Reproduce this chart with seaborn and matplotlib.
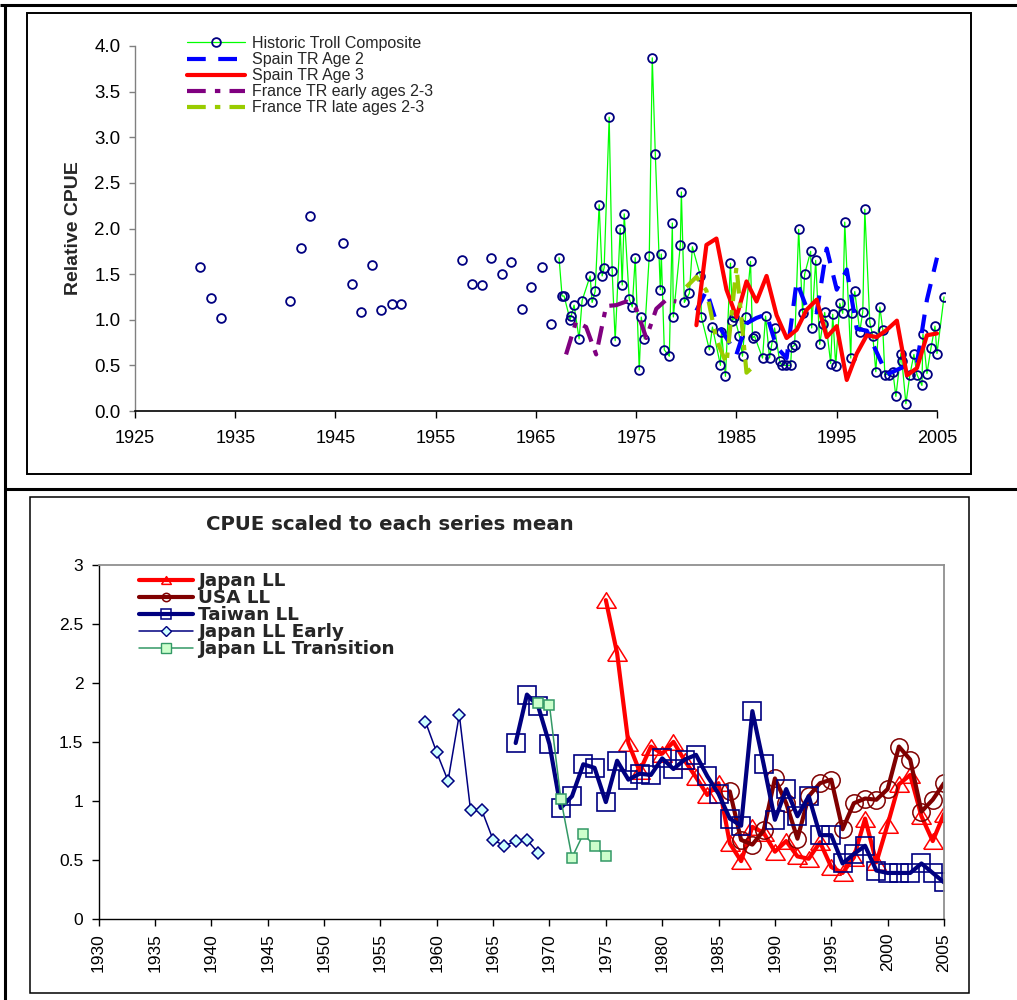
import matplotlib
matplotlib.use("Agg")
import matplotlib.pyplot as plt
from matplotlib.lines import Line2D
from matplotlib.patches import Rectangle
import seaborn as sns

# ---------------- upper panel: troll CPUE indices ----------------
troll_early_year = [1931.5, 1932.6, 1933.6, 1940.5, 1941.6, 1942.5, 1945.7, 1946.6,
                    1947.5, 1948.6, 1949.5, 1950.6, 1951.5, 1957.6, 1958.6, 1959.6,
                    1960.5, 1961.6, 1962.5, 1963.6, 1964.5, 1965.6, 1966.5]
troll_early_cpue = [1.58, 1.24, 1.02, 1.21, 1.79, 2.14, 1.84, 1.39,
                    1.09, 1.60, 1.11, 1.17, 1.17, 1.66, 1.39, 1.38,
                    1.68, 1.50, 1.63, 1.12, 1.36, 1.58, 0.95]

troll_year = [1967.3, 1967.6, 1967.8, 1968.4, 1968.5, 1968.8, 1969.3, 1969.6,
              1970.4, 1970.6, 1970.9, 1971.3, 1971.6, 1971.8, 1972.3, 1972.6,
              1972.9, 1973.4, 1973.6, 1973.8, 1974.3, 1974.6, 1974.9, 1975.3,
              1975.5, 1975.8, 1976.3, 1976.6, 1976.9, 1977.4, 1977.5, 1977.8,
              1978.3, 1978.6, 1978.7, 1979.4, 1979.5, 1979.8, 1980.3, 1980.6,
              1981.4, 1981.5, 1982.3, 1982.6, 1983.4, 1983.5, 1983.9, 1984.4,
              1984.6, 1984.8, 1985.3, 1985.6, 1985.9, 1986.4, 1986.6, 1986.8,
              1987.6, 1987.9, 1988.3, 1988.5, 1988.8, 1989.3, 1989.5, 1989.9,
              1990.4, 1990.5, 1990.8, 1991.2, 1991.6, 1991.8, 1992.4, 1992.5,
              1992.9, 1993.3, 1993.6, 1993.8, 1994.4, 1994.6, 1994.9, 1995.3,
              1995.6, 1995.8, 1996.4, 1996.5, 1996.8, 1997.3, 1997.6, 1997.8,
              1998.3, 1998.6, 1998.9, 1999.3, 1999.6, 1999.8, 2000.2, 2000.6,
              2000.9, 2001.4, 2001.5, 2001.9, 2002.3, 2002.7, 2003.0, 2003.5,
              2003.6, 2004.0, 2004.4, 2004.8, 2005.0, 2005.7]
troll_cpue = [1.68, 1.26, 1.26, 1.00, 1.04, 1.16, 0.79, 1.21,
              1.48, 1.19, 1.31, 2.26, 1.48, 1.57, 3.22, 1.53,
              0.77, 2.00, 1.38, 2.16, 1.23, 1.14, 1.68, 0.45,
              1.03, 0.79, 1.70, 3.87, 2.82, 1.33, 1.72, 0.67,
              0.60, 2.06, 1.03, 1.82, 2.40, 1.19, 1.29, 1.80,
              1.48, 1.03, 0.67, 0.92, 0.50, 0.87, 0.38, 1.62,
              0.99, 1.03, 0.82, 0.60, 1.03, 1.64, 0.80, 0.82,
              0.58, 1.04, 0.58, 0.72, 0.91, 0.55, 0.50, 0.50,
              0.50, 0.70, 0.72, 1.99, 1.07, 1.50, 1.75, 0.91,
              1.65, 0.73, 0.95, 1.08, 0.52, 1.06, 0.49, 1.18,
              1.07, 2.07, 0.58, 1.07, 1.31, 0.87, 1.09, 2.21,
              0.97, 0.82, 0.43, 1.14, 0.89, 0.40, 0.40, 0.43,
              0.16, 0.63, 0.55, 0.08, 0.40, 0.62, 0.40, 0.28,
              0.84, 0.41, 0.69, 0.93, 0.63, 1.25]

spain_year = list(range(1981, 2006))
spain_age2 = [1.10, 1.32, 0.97, 0.80, 0.62, 0.96, 1.02, 1.06, 0.70, 0.58,
              1.42, 1.13, 1.08, 1.78, 1.33, 1.55, 0.90, 0.88, 0.64, 0.40,
              0.45, 0.50, 0.52, 1.22, 1.68]
spain_age3 = [0.94, 1.82, 1.89, 1.33, 1.03, 1.42, 1.20, 1.48, 1.05, 0.80,
              0.89, 1.11, 1.22, 0.81, 0.93, 0.34, 0.63, 0.83, 0.81, 0.89,
              0.99, 0.39, 0.47, 0.83, 0.85]

france_early_year = list(range(1968, 1980))
france_early = [0.62, 0.98, 0.92, 0.62, 1.15, 1.16, 1.20, 1.12, 0.80, 1.12, 1.22, 1.20]
france_late_year = list(range(1980, 1988))
france_late = [1.36, 1.47, 1.32, 0.78, 0.52, 1.58, 0.42, 0.52]

top_xticks = list(range(1925, 2006, 10))
top_yticks = [0.0, 0.5, 1.0, 1.5, 2.0, 2.5, 3.0, 3.5, 4.0]
top_ytick_labels = ["0.0", "0.5", "1.0", "1.5", "2.0", "2.5", "3.0", "3.5", "4.0"]

# ---------------- lower panel: longline CPUE scaled to series mean ----------------
japan_ll_year = list(range(1975, 2006))
japan_ll = [2.70, 2.25, 1.49, 1.25, 1.46, 1.40, 1.50, 1.34, 1.20, 1.05,
            1.15, 0.64, 0.49, 0.78, 0.73, 0.57, 0.66, 0.53, 0.51, 0.65,
            0.44, 0.39, 0.52, 0.85, 0.48, 0.80, 1.14, 1.22, 0.87, 0.66, 0.89]

usa_ll_year = list(range(1986, 2006))
usa_ll = [1.08, 0.67, 0.63, 0.75, 1.19, 0.98, 0.68, 1.04, 1.15, 1.18,
          0.76, 0.98, 1.02, 1.01, 1.10, 1.46, 1.35, 0.91, 1.01, 1.15]

taiwan_ll_year = list(range(1967, 2006))
taiwan_ll = [1.49, 1.90, 1.80, 1.48, 0.94, 1.04, 1.31, 1.28, 0.99, 1.34,
             1.18, 1.23, 1.22, 1.36, 1.27, 1.35, 1.39, 1.21, 1.06, 0.85,
             0.79, 1.76, 1.31, 0.84, 1.10, 0.87, 1.04, 0.71, 0.71, 0.47,
             0.55, 0.62, 0.41, 0.39, 0.39, 0.39, 0.47, 0.39, 0.31]

japan_early_year = list(range(1959, 1970))
japan_early = [1.67, 1.41, 1.17, 1.73, 0.92, 0.92, 0.67, 0.62, 0.66, 0.67, 0.56]

japan_trans_year = list(range(1969, 1976))
japan_trans = [1.83, 1.81, 1.02, 0.52, 0.72, 0.62, 0.53]

bottom_xticks = list(range(1930, 2006, 5))
bottom_yticks = [0, 0.5, 1, 1.5, 2, 2.5, 3]
bottom_ytick_labels = ["0", "0.5", "1", "1.5", "2", "2.5", "3"]

# ---------------- figure ----------------
W, H = 1017, 1000
sns.set_theme(style="ticks")
plt.rcParams["font.family"] = ["Liberation Sans", "DejaVu Sans"]

fig = plt.figure(figsize=(W / 100, H / 100), dpi=100)
fig.patch.set_facecolor("white")


def fx(px):
    return px / W


def fy(py):
    return 1 - py / H


def line(ax, x, y, **kw):
    sns.lineplot(x=x, y=y, ax=ax, estimator=None, errorbar=None, sort=False, **kw)
    return ax.lines[-1]


# ---- upper axes ----
ax1 = fig.add_axes([fx(135), fy(411), fx(945 - 135), (411 - 46) / H])
navy = "#000080"
line(ax1, troll_early_year, troll_early_cpue, lw=0, marker="o", ms=6.3,
     mfc="none", mec=navy, mew=1.3)
h_troll = line(ax1, troll_year, troll_cpue, color="#00ff00", lw=0.9, marker="o",
               ms=6.3, mfc="none", mec=navy, mew=1.3, label="Historic Troll Composite")
h_sp2 = line(ax1, spain_year, spain_age2, color="#0000ff", lw=3.0,
             linestyle=(0, (4.5, 3.0)), label="Spain TR Age 2")
h_sp3 = line(ax1, spain_year, spain_age3, color="#ff0000", lw=3.0,
             label="Spain TR Age 3")
dashdot = (0, (4.5, 2.2, 1.3, 2.2))
h_fe = line(ax1, france_early_year, france_early, color="#800080", lw=3.0,
            linestyle=dashdot, label="France TR early ages 2-3")
h_fl = line(ax1, france_late_year, france_late, color="#99cc00", lw=3.0,
            linestyle=dashdot, label="France TR late ages 2-3")

ax1.set_xlim(1925, 2005.8)
ax1.set_ylim(0, 4)
ax1.set_xticks(top_xticks)
ax1.set_xticklabels([str(t) for t in top_xticks])
ax1.set_yticks(top_yticks)
ax1.set_yticklabels(top_ytick_labels)
ax1.set_xlabel("")
ax1.set_ylabel("Relative CPUE", fontsize=14, fontweight="bold", labelpad=9)
for s in ("top", "right"):
    ax1.spines[s].set_visible(False)
ax1.spines["bottom"].set_bounds(1925, 2005)
ax1.spines["bottom"].set_color("black")
ax1.spines["bottom"].set_linewidth(1.2)
ax1.spines["left"].set_color("#808080")
ax1.spines["left"].set_linewidth(1.0)
ax1.tick_params(axis="x", direction="out", length=5, width=1, color="black",
                labelsize=13, pad=9, labelcolor="black")
ax1.tick_params(axis="y", direction="out", length=4.5, width=1, color="#808080",
                labelsize=13.5, pad=6, labelcolor="black")
ax1.set_facecolor("white")
ax1.legend(handles=[h_troll, h_sp2, h_sp3, h_fe, h_fl], loc="upper left",
           bbox_to_anchor=(fx(187), fy(36)), bbox_transform=fig.transFigure,
           frameon=False, fontsize=11.5, handlelength=3.6, handletextpad=0.5,
           labelspacing=0.07, borderpad=0, borderaxespad=0)

# ---- lower axes ----
ax2 = fig.add_axes([fx(98.6), fy(919), fx(944 - 98.6), (919 - 564.7) / H])
tri = [(-1.0, -0.8), (1.0, -0.8), (0.0, 0.8), (-1.0, -0.8)]
line(ax2, japan_ll_year, japan_ll, color="#ff0000", lw=3.0, marker=tri, ms=14,
     mfc="none", mec="#ff0000", mew=1.1)
line(ax2, usa_ll_year, usa_ll, color="#800000", lw=3.0, marker="o", ms=12.5,
     mfc="none", mec="#800000", mew=1.1)
line(ax2, taiwan_ll_year, taiwan_ll, color=navy, lw=3.0, marker="s", ms=12.5,
     mfc="none", mec=navy, mew=1.2)
line(ax2, japan_early_year, japan_early, color=navy, lw=1.1, marker="D", ms=6.0,
     mfc="#ccffff", mec=navy, mew=1.1)
line(ax2, japan_trans_year, japan_trans, color="#339966", lw=1.1, marker="s", ms=7.5,
     mfc="#ccffcc", mec="#339966", mew=1.1)

ax2.set_xlim(1930, 2005)
ax2.set_ylim(0, 3)
ax2.set_xticks(bottom_xticks)
ax2.set_xticklabels([str(t) for t in bottom_xticks], rotation=90)
ax2.set_yticks(bottom_yticks)
ax2.set_yticklabels(bottom_ytick_labels)
ax2.set_xlabel("")
ax2.set_ylabel("")
for s in ("top", "right"):
    ax2.spines[s].set_color("#909090")
    ax2.spines[s].set_linewidth(1.3)
for s in ("left", "bottom"):
    ax2.spines[s].set_color("black")
    ax2.spines[s].set_linewidth(1.0)
ax2.tick_params(axis="both", direction="out", length=5, width=1, color="black",
                labelsize=12.5, labelcolor="black")
ax2.tick_params(axis="x", pad=5)
ax2.tick_params(axis="y", pad=6)

bold_font = {"family": ["DejaVu Sans"], "weight": "bold", "size": 13.2}
leg_handles = [
    Line2D([], [], color="#ff0000", lw=3.0, marker=tri, ms=7, mfc="none", mec="#ff0000", mew=1.1),
    Line2D([], [], color="#800000", lw=3.0, marker="o", ms=6, mfc="none", mec="#800000", mew=1.1),
    Line2D([], [], color=navy, lw=3.0, marker="s", ms=6.5, mfc="none", mec=navy, mew=1.1),
    Line2D([], [], color=navy, lw=1.1, marker="D", ms=5.5, mfc="#ccffff", mec=navy, mew=1.0),
    Line2D([], [], color="#339966", lw=1.1, marker="s", ms=6.5, mfc="#ccffcc", mec="#339966", mew=1.0),
]
leg_labels = ["Japan LL", "USA LL", "Taiwan LL", "Japan LL Early", "Japan LL Transition"]
ax2.legend(leg_handles, leg_labels, loc="upper left",
           bbox_to_anchor=(fx(139), fy(572)), bbox_transform=fig.transFigure,
           frameon=False, prop=bold_font, handlelength=2.95, handletextpad=0.27,
           labelspacing=-0.05, borderpad=0, borderaxespad=0)

fig.text(fx(390), fy(525), "CPUE scaled to each series mean", ha="center", va="center",
         fontsize=14.2, fontweight="bold", family=["DejaVu Sans"])

# ---- panel frames ----
frame_kw = dict(transform=fig.transFigure, color="black", solid_capstyle="butt")
fig.add_artist(Line2D([0, 1], [fy(5), fy(5)], lw=2.2, **frame_kw))
fig.add_artist(Line2D([fx(5), fx(5)], [fy(5), 0], lw=2.2, **frame_kw))
fig.add_artist(Line2D([fx(5), 1], [fy(489), fy(489)], lw=2.2, **frame_kw))
fig.add_artist(Rectangle((fx(27), fy(474)), fx(971 - 27), (474 - 13) / H,
                         transform=fig.transFigure, fill=False, ec="black", lw=1.4))
fig.add_artist(Rectangle((fx(30), fy(993)), fx(969 - 30), (993 - 497) / H,
                         transform=fig.transFigure, fill=False, ec="black", lw=1.1))

fig.savefig("out.png", dpi=100, facecolor="white")
